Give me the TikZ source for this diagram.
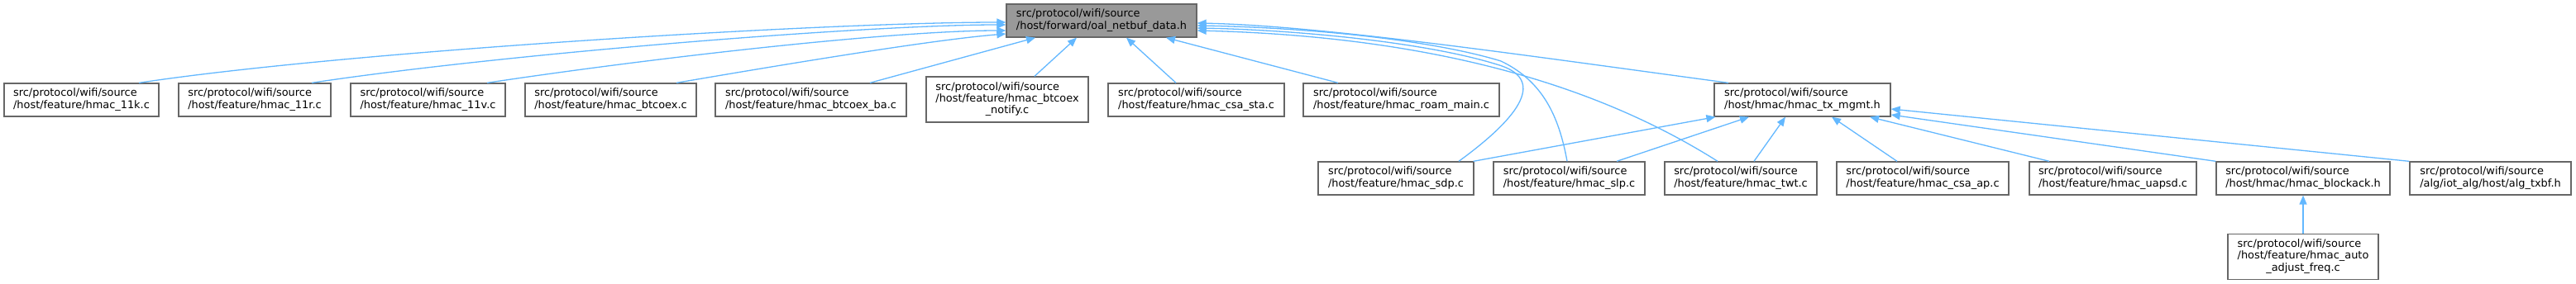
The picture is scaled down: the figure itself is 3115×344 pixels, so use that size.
\documentclass[tikz,border=0pt]{standalone}
\usepackage{fontspec}
\setmainfont{DejaVu Sans}
\usetikzlibrary{arrows.meta}
\definecolor{boxborder}{HTML}{666666}
\definecolor{rootfill}{HTML}{999999}
\definecolor{edgeblue}{HTML}{63B8FF}
\newcommand{\fs}{\fontsize{12.9}{14.3}\selectfont}
\newcommand{\lbl}[2]{\begin{tabular}{@{}l@{}}#1\\#2\end{tabular}}
\newcommand{\lblc}[3]{\begin{tabular}{@{}l@{}}#1\\#2\\\multicolumn{1}{@{}c@{}}{#3}\end{tabular}}
\begin{document}
\begin{tikzpicture}[x=1pt,y=-1pt,
  box/.style={draw=boxborder, fill=white, line width=1.3pt, minimum height=40pt, inner sep=0pt, font=\fs},
  rootbox/.style={box, fill=rootfill},
  tallbox/.style={box, minimum height=55pt},
  edge/.style={draw=edgeblue, line width=1.3pt, -{Triangle[length=11pt,width=9pt]}}]
\useasboundingbox[fill=white] (0,0) rectangle (3115,344);
% root
\node[rootbox, minimum width=230pt] (root) at (1332,25) {\lbl{src/protocol/wifi/source}{/host/forward/oal\_netbuf\_data.h}};
% row 1
\node[box, minimum width=187pt] (k11) at (98.5,121) {\lbl{src/protocol/wifi/source}{/host/feature/hmac\_11k.c}};
\node[box, minimum width=184pt] (r11) at (308,121) {\lbl{src/protocol/wifi/source}{/host/feature/hmac\_11r.c}};
\node[box, minimum width=187pt] (v11) at (517.5,121) {\lbl{src/protocol/wifi/source}{/host/feature/hmac\_11v.c}};
\node[box, minimum width=207pt] (btc) at (738.5,121) {\lbl{src/protocol/wifi/source}{/host/feature/hmac\_btcoex.c}};
\node[box, minimum width=231pt] (btcba) at (980.5,121) {\lbl{src/protocol/wifi/source}{/host/feature/hmac\_btcoex\_ba.c}};
\node[tallbox, minimum width=196pt] (btcn) at (1218,120.5) {\lblc{src/protocol/wifi/source}{/host/feature/hmac\_btcoex}{\_notify.c}};
\node[box, minimum width=213pt] (csasta) at (1446.5,121) {\lbl{src/protocol/wifi/source}{/host/feature/hmac\_csa\_sta.c}};
\node[box, minimum width=237pt] (roam) at (1694.5,121) {\lbl{src/protocol/wifi/source}{/host/feature/hmac\_roam\_main.c}};
\node[box, minimum width=213pt] (tx) at (2179.5,121) {\lbl{src/protocol/wifi/source}{/host/hmac/hmac\_tx\_mgmt.h}};
% row 2
\node[box, minimum width=188pt] (sdp) at (1688,216) {\lbl{src/protocol/wifi/source}{/host/feature/hmac\_sdp.c}};
\node[box, minimum width=183pt] (slp) at (1897.5,216) {\lbl{src/protocol/wifi/source}{/host/feature/hmac\_slp.c}};
\node[box, minimum width=184pt] (twt) at (2105,216) {\lbl{src/protocol/wifi/source}{/host/feature/hmac\_twt.c}};
\node[box, minimum width=208pt] (csaap) at (2325,216) {\lbl{src/protocol/wifi/source}{/host/feature/hmac\_csa\_ap.c}};
\node[box, minimum width=202pt] (uapsd) at (2555,216) {\lbl{src/protocol/wifi/source}{/host/feature/hmac\_uapsd.c}};
\node[box, minimum width=210pt] (back) at (2785,216) {\lbl{src/protocol/wifi/source}{/host/hmac/hmac\_blockack.h}};
\node[box, minimum width=195pt] (txbf) at (3011.5,216) {\lbl{src/protocol/wifi/source}{/alg/iot\_alg/host/alg\_txbf.h}};
% row 3
\node[tallbox, minimum width=182pt] (auto) at (2785,311) {\lblc{src/protocol/wifi/source}{/host/feature/hmac\_auto}{\_adjust\_freq.c}};
% edges to root, left side
\draw[edge] ([xshift=69.5pt]k11.north) .. controls (420,62) and (1000,27) .. ([yshift=-2pt]root.west);
\draw[edge] ([xshift=69pt]r11.north) .. controls (610,65) and (1050,30) .. ([yshift=-5pt]root.west);
\draw[edge] ([xshift=71.5pt]v11.north) .. controls (790,70) and (1080,37) .. ([yshift=-12pt]root.west);
\draw[edge] ([xshift=79.5pt]btc.north) .. controls (960,76) and (1130,48) .. ([yshift=-16pt]root.west);
% edges to root, bottom
\draw[edge] ([xshift=71.5pt]btcba.north) -- ([xshift=-80pt]root.south);
\draw[edge] ([xshift=33pt]btcn.north) -- ([xshift=-30pt]root.south);
\draw[edge] ([xshift=-24.5pt]csasta.north) -- ([xshift=30pt]root.south);
\draw[edge] ([xshift=-76.5pt]roam.north) -- ([xshift=78pt]root.south);
% edges to root, right side
\draw[edge] ([xshift=-89.5pt]tx.north) .. controls (1850,68) and (1600,31) .. ([yshift=-3pt]root.east);
\draw[edge] ([xshift=76pt]sdp.north) .. controls (1840,140) and (1870,95) .. (1810,78) .. controls (1720,50) and (1560,36) .. ([yshift=-9pt]root.east);
\draw[edge] ([xshift=-2.5pt]slp.north) .. controls (1885,140) and (1865,98) .. (1815,74) .. controls (1720,45) and (1560,33) .. ([yshift=-6pt]root.east);
\draw[edge] ([xshift=-28pt]twt.north) .. controls (1950,115) and (1760,45) .. ([yshift=-12pt]root.east);
% edges to tx_mgmt
\draw[edge] ([xshift=-1pt]sdp.north east) -- ([xshift=2pt]tx.south west);
\draw[edge] ([xshift=57.5pt]slp.north) -- ([xshift=-64.5pt]tx.south);
\draw[edge] ([xshift=16pt]twt.north) -- ([xshift=-20.5pt]tx.south);
\draw[edge] ([xshift=-31pt]csaap.north) -- ([xshift=35.5pt]tx.south);
\draw[edge] ([xshift=-77pt]uapsd.north) -- ([xshift=81.5pt]tx.south);
\draw[edge] (back.north west) -- ([yshift=-18pt]tx.east);
\draw[edge] (txbf.north west) -- ([yshift=-11pt]tx.east);
% edge to blockack
\draw[edge] (auto.north) -- (back.south);
\end{tikzpicture}
\end{document}
